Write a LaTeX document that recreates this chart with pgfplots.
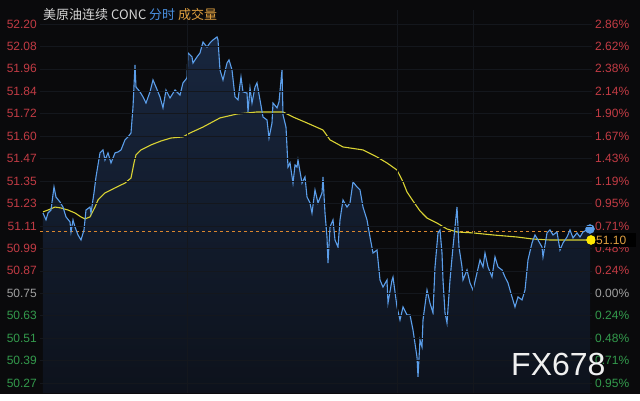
\documentclass[border=0pt]{standalone}
\usepackage{pgfplots}
\pgfplotsset{compat=1.18}
\usepackage{pgfplotstable}
\usepackage{fontspec}
\setmainfont{Liberation Sans}
\newfontfamily\cjk{Noto Sans CJK SC}
\definecolor{bgblack}{HTML}{0A0A0C}
\definecolor{upred}{HTML}{C23B44}
\definecolor{flatgray}{HTML}{A0A0A0}
\definecolor{downgreen}{HTML}{339A4C}
\definecolor{titlegray}{HTML}{D4D4D4}
\definecolor{titleblue}{HTML}{4A90E0}
\definecolor{titleorange}{HTML}{E0A040}
\definecolor{lineblue}{HTML}{5B9EEA}
\definecolor{lineyellow}{HTML}{D9D233}
\definecolor{fillTop}{HTML}{18263E}
\definecolor{fillBot}{HTML}{0D121C}
\definecolor{gridc}{HTML}{14171D}
\definecolor{dashc}{HTML}{D9862E}

\pgfplotstableread{
x y
43 51.184
46 51.147
48 51.184
51 51.200
54 51.324
56 51.270
60 51.243
63 51.216
66 51.163
70 51.136
71 51.082
73 51.147
75 51.109
78 51.066
81 51.039
84 51.093
86 51.200
90 51.216
91 51.184
94 51.292
96 51.378
100 51.507
103 51.523
105 51.469
108 51.507
111 51.453
115 51.507
118 51.512
121 51.523
125 51.577
128 51.593
131 51.614
133 51.754
135 51.980
136 51.861
140 51.835
143 51.808
146 51.775
150 51.835
153 51.899
156 51.861
160 51.808
163 51.749
166 51.845
170 51.802
175 51.845
180 51.818
183 51.883
187 51.910
188 52.044
192 52.023
193 51.990
197 52.023
200 52.044
203 52.103
207 52.076
210 52.098
213 52.114
217 52.130
218 52.114
220 51.953
223 51.899
227 51.990
229 52.007
232 51.953
235 51.808
238 51.792
241 51.915
243 51.835
247 51.829
248 51.727
250 51.856
252 51.775
255 51.861
257 51.883
260 51.792
263 51.700
267 51.684
269 51.587
272 51.668
273 51.775
277 51.749
279 51.781
282 51.953
283 51.711
286 51.646
287 51.539
288 51.431
290 51.453
293 51.345
295 51.442
297 51.431
298 51.469
302 51.345
305 51.378
307 51.270
310 51.238
312 51.184
315 51.308
318 51.238
322 51.292
323 51.378
325 51.184
327 51.055
328 50.915
330 51.109
333 51.147
335 51.039
338 51.001
340 51.147
343 51.254
347 51.216
350 51.238
353 51.351
357 51.324
360 51.308
363 51.216
367 51.147
370 51.055
373 50.969
377 50.985
380 50.824
383 50.786
387 50.824
388 50.700
392 50.824
393 50.840
397 50.679
400 50.609
403 50.679
407 50.636
410 50.636
413 50.555
417 50.410
418 50.303
420 50.502
422 50.464
423 50.609
427 50.770
430 50.700
433 50.647
435 50.894
438 51.077
440 51.093
442 50.969
443 50.824
445 50.647
447 50.593
450 50.824
453 51.001
457 51.216
459 51.001
462 50.894
463 50.824
467 50.878
470 50.808
473 50.770
477 50.862
480 50.932
483 50.894
485 50.969
488 50.894
492 50.840
495 50.948
498 50.894
502 50.878
505 50.840
508 50.808
512 50.733
515 50.679
518 50.733
522 50.717
525 50.770
528 50.932
532 51.023
535 51.066
538 51.039
542 51.001
543 50.948
547 51.077
550 51.093
553 51.066
557 51.082
560 50.985
563 51.023
567 51.055
570 51.093
573 51.050
577 51.077
580 51.055
583 51.082
587 51.093
590 51.098
}\pricetable

\pgfplotstableread{
x y
43 50.2166
43 51.184
46 51.147
48 51.184
51 51.200
54 51.324
56 51.270
60 51.243
63 51.216
66 51.163
70 51.136
71 51.082
73 51.147
75 51.109
78 51.066
81 51.039
84 51.093
86 51.200
90 51.216
91 51.184
94 51.292
96 51.378
100 51.507
103 51.523
105 51.469
108 51.507
111 51.453
115 51.507
118 51.512
121 51.523
125 51.577
128 51.593
131 51.614
133 51.754
135 51.980
136 51.861
140 51.835
143 51.808
146 51.775
150 51.835
153 51.899
156 51.861
160 51.808
163 51.749
166 51.845
170 51.802
175 51.845
180 51.818
183 51.883
187 51.910
188 52.044
192 52.023
193 51.990
197 52.023
200 52.044
203 52.103
207 52.076
210 52.098
213 52.114
217 52.130
218 52.114
220 51.953
223 51.899
227 51.990
229 52.007
232 51.953
235 51.808
238 51.792
241 51.915
243 51.835
247 51.829
248 51.727
250 51.856
252 51.775
255 51.861
257 51.883
260 51.792
263 51.700
267 51.684
269 51.587
272 51.668
273 51.775
277 51.749
279 51.781
282 51.953
283 51.711
286 51.646
287 51.539
288 51.431
290 51.453
293 51.345
295 51.442
297 51.431
298 51.469
302 51.345
305 51.378
307 51.270
310 51.238
312 51.184
315 51.308
318 51.238
322 51.292
323 51.378
325 51.184
327 51.055
328 50.915
330 51.109
333 51.147
335 51.039
338 51.001
340 51.147
343 51.254
347 51.216
350 51.238
353 51.351
357 51.324
360 51.308
363 51.216
367 51.147
370 51.055
373 50.969
377 50.985
380 50.824
383 50.786
387 50.824
388 50.700
392 50.824
393 50.840
397 50.679
400 50.609
403 50.679
407 50.636
410 50.636
413 50.555
417 50.410
418 50.303
420 50.502
422 50.464
423 50.609
427 50.770
430 50.700
433 50.647
435 50.894
438 51.077
440 51.093
442 50.969
443 50.824
445 50.647
447 50.593
450 50.824
453 51.001
457 51.216
459 51.001
462 50.894
463 50.824
467 50.878
470 50.808
473 50.770
477 50.862
480 50.932
483 50.894
485 50.969
488 50.894
492 50.840
495 50.948
498 50.894
502 50.878
505 50.840
508 50.808
512 50.733
515 50.679
518 50.733
522 50.717
525 50.770
528 50.932
532 51.023
535 51.066
538 51.039
542 51.001
543 50.948
547 51.077
550 51.093
553 51.066
557 51.082
560 50.985
563 51.023
567 51.055
570 51.093
573 51.050
577 51.077
580 51.055
583 51.082
587 51.093
590 51.098
590 50.2166
}\filltable

\pgfplotstableread{
x y
43 51.190
48 51.200
55 51.216
61 51.211
68 51.200
75 51.184
81 51.163
85 51.152
90 51.163
95 51.216
98 51.254
105 51.292
115 51.319
125 51.345
131 51.372
134 51.453
136 51.496
141 51.523
151 51.550
161 51.571
171 51.587
183 51.593
190 51.614
203 51.646
220 51.695
237 51.716
257 51.727
283 51.727
293 51.700
307 51.668
323 51.630
330 51.577
343 51.539
363 51.523
377 51.485
387 51.453
397 51.415
403 51.351
407 51.297
413 51.249
420 51.195
427 51.157
437 51.130
447 51.098
457 51.082
473 51.077
493 51.066
517 51.055
533 51.044
550 51.039
567 51.039
591 51.039
}\avgtable

\pgfplotsset{
  common/.style={
    at={(40pt,7pt)}, anchor=south west,
    scale only axis, width=552pt, height=383pt,
    xmin=40, xmax=592, ymin=50.2166, ymax=52.275,
    axis line style={draw=none},
    major tick length=0pt,
    ytick={52.2,52.079375,51.95875,51.838125,51.7175,51.596875,51.47625,51.355625,51.235,51.114375,50.99375,50.873125,50.7525,50.631875,50.51125,50.390625,50.27},
  }
}

\begin{document}
\begin{tikzpicture}[x=1pt,y=1pt]
\fill[white] (0,0) rectangle (640,400);
\fill[bgblack] (0,6) rectangle (640,400);

\begin{axis}[common,
  axis on top,
  xtick={187,397,473}, xticklabels={},
  grid=major, grid style={color=gridc, line width=0.5pt},
  yticklabel pos=left,
  yticklabel style={anchor=east, inner sep=0pt, xshift=-3pt, font=\fontsize{12}{14}\selectfont},
  yticklabels={\textcolor{upred}{52.20},\textcolor{upred}{52.08},\textcolor{upred}{51.96},\textcolor{upred}{51.84},\textcolor{upred}{51.72},\textcolor{upred}{51.60},\textcolor{upred}{51.47},\textcolor{upred}{51.35},\textcolor{upred}{51.23},\textcolor{upred}{51.11},\textcolor{upred}{50.99},\textcolor{upred}{50.87},\textcolor{flatgray}{50.75},\textcolor{downgreen}{50.63},\textcolor{downgreen}{50.51},\textcolor{downgreen}{50.39},\textcolor{downgreen}{50.27}},
  clip mode=individual,
]
\addplot[draw=none, top color=fillTop, bottom color=fillBot, forget plot] table[x=x,y=y] {\filltable} -- cycle;
\addplot[dashc, dash pattern=on 3pt off 3pt, line width=0.9pt] coordinates {(40,51.087) (592,51.087)};
\addplot[lineyellow, line width=1.1pt] table[x=x,y=y] {\avgtable};
\addplot[lineblue, line width=1.1pt] table[x=x,y=y] {\pricetable};
\addplot[only marks, mark=*, mark size=4.5pt, color=lineblue] coordinates {(590,51.098)};
\addplot[only marks, mark=*, mark size=4.5pt, color=yellow!90!orange] coordinates {(591,51.039)};
\end{axis}

\begin{axis}[common,
  xtick=\empty,
  yticklabel pos=right,
  yticklabel style={anchor=west, inner sep=0pt, xshift=3pt, font=\fontsize{12}{14}\selectfont},
  yticklabels={\textcolor{upred}{2.86\%},\textcolor{upred}{2.62\%},\textcolor{upred}{2.38\%},\textcolor{upred}{2.14\%},\textcolor{upred}{1.90\%},\textcolor{upred}{1.67\%},\textcolor{upred}{1.43\%},\textcolor{upred}{1.19\%},\textcolor{upred}{0.95\%},\textcolor{upred}{0.71\%},\textcolor{upred}{0.48\%},\textcolor{upred}{0.24\%},\textcolor{flatgray}{0.00\%},\textcolor{downgreen}{0.24\%},\textcolor{downgreen}{0.48\%},\textcolor{downgreen}{0.71\%},\textcolor{downgreen}{0.95\%}},
]
\end{axis}

\fill[black] (595,153) rectangle (636,167);
\node[anchor=west, inner sep=0pt, font=\fontsize{12}{14}\selectfont, text=titleorange] at (596,160) {51.10};
\fill[yellow!90!orange] (591,160) circle (4.5);

\node[anchor=west, inner sep=0pt] at (43,385) {\cjk\fontsize{13}{15}\selectfont\textcolor{titlegray}{美原油连续 CONC} \textcolor{titleblue}{分时} \textcolor{titleorange}{成交量}};

\node[anchor=base west, inner sep=0pt, font=\fontsize{32}{36}\selectfont, text=white!94!black] at (511,25) {FX678};
\end{tikzpicture}
\end{document}
